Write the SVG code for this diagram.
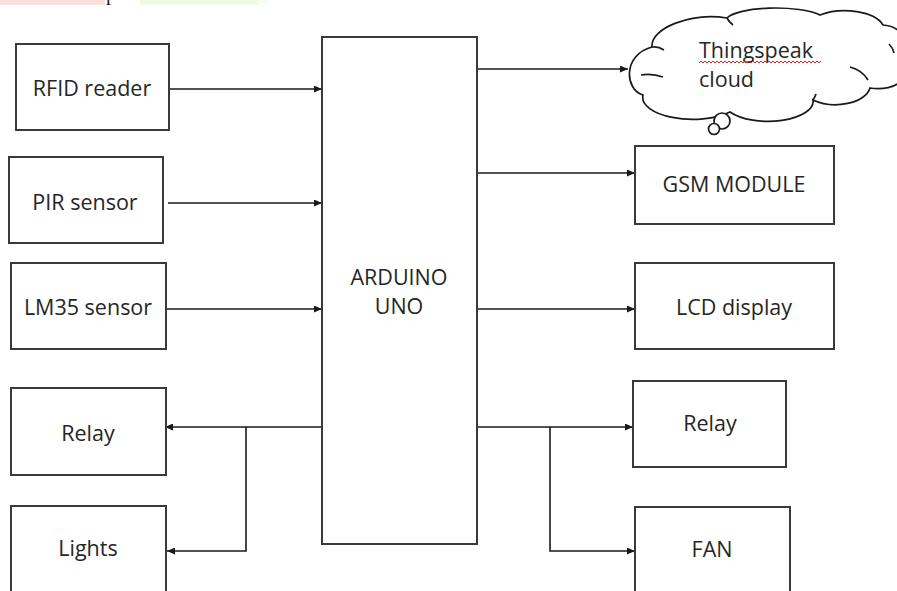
<svg xmlns="http://www.w3.org/2000/svg" width="897" height="591" viewBox="0 0 897 591">
<defs>
<style>
.box{fill:#fff;stroke:#3a3a3a;stroke-width:2}
.lbl{font-family:"Open Sans","Noto Sans",sans-serif;font-size:21.5px;fill:#262626}
.c{text-anchor:middle}
.ln{fill:none;stroke:#1a1a1a;stroke-width:1.6}
.cl{fill:none;stroke:#1a1a1a;stroke-width:1.7}
</style>
<marker id="ah" markerUnits="userSpaceOnUse" markerWidth="8" markerHeight="7" refX="8" refY="3.5" orient="auto">
<path d="M0,0 L8,3.5 L0,7 z" fill="#1a1a1a"/>
</marker>
</defs>
<rect width="897" height="591" fill="#fff"/>
<!-- top strip remnants -->
<rect x="0" y="0" width="105" height="5" fill="#ffdede"/>
<text x="106" y="0" font-family="Liberation Serif,serif" font-size="20" fill="#1a1a1a">p</text>
<rect x="140" y="0" width="118" height="5" fill="#eefbe2"/>
<rect x="258" y="0" width="9" height="3" fill="#f4fcec"/>

<g id="connectors">
<line class="ln" x1="170" y1="89" x2="322" y2="89" marker-end="url(#ah)"/>
<line class="ln" x1="168" y1="203" x2="322" y2="203" marker-end="url(#ah)"/>
<line class="ln" x1="167" y1="309" x2="322" y2="309" marker-end="url(#ah)"/>
<line class="ln" x1="471" y1="69" x2="628" y2="69" marker-end="url(#ah)"/>
<line class="ln" x1="477" y1="173" x2="635" y2="173" marker-end="url(#ah)"/>
<line class="ln" x1="477" y1="309" x2="635" y2="309" marker-end="url(#ah)"/>
<line class="ln" x1="477" y1="427" x2="633" y2="427" marker-end="url(#ah)"/>
<polyline class="ln" points="550,427 550,551 635,551" marker-end="url(#ah)"/>
<line class="ln" x1="325" y1="427" x2="165" y2="427" marker-end="url(#ah)"/>
<polyline class="ln" points="246,427 246,551 167,551" marker-end="url(#ah)"/>
</g>

<g id="rfid"><rect class="box" x="16" y="44" width="153" height="86"/><text class="lbl c" x="92" y="96">RFID reader</text></g>
<g id="pir"><rect class="box" x="9" y="157" width="154" height="86"/><text class="lbl c" x="85" y="210">PIR sensor</text></g>
<g id="lm35"><rect class="box" x="11" y="263" width="155" height="86"/><text class="lbl c" x="88" y="315">LM35 sensor</text></g>
<g id="relay-left"><rect class="box" x="11" y="388" width="155" height="87"/><text class="lbl c" x="88" y="441">Relay</text></g>
<g id="lights"><rect class="box" x="11" y="506" width="155" height="100"/><text class="lbl c" x="88" y="556">Lights</text></g>
<g id="arduino"><rect class="box" x="322" y="37" width="155" height="507"/><text class="lbl c" x="399" y="285">ARDUINO</text><text class="lbl c" x="399" y="314">UNO</text></g>
<g id="gsm"><rect class="box" x="635" y="146" width="199" height="78"/><text class="lbl c" x="734" y="192">GSM MODULE</text></g>
<g id="lcd"><rect class="box" x="635" y="263" width="199" height="86"/><text class="lbl c" x="734" y="315">LCD display</text></g>
<g id="relay-right"><rect class="box" x="633" y="381" width="153" height="86"/><text class="lbl c" x="710" y="431">Relay</text></g>
<g id="fan"><rect class="box" x="635" y="507" width="155" height="100"/><text class="lbl c" x="712" y="557">FAN</text></g>

<g id="cloud">
<path class="cl" style="fill:#fff" d="M643,95 C625,90 622,55 652,47 C650,28 692,12 727,18 A50,13 0 0 1 820,15 A40,20 0 0 1 883,25 A30,32 0 0 1 899,83 A30,18 0 0 1 870,88 A35,20 0 0 1 813,100 A45,20 0 0 1 730,112 A50,22 0 0 1 643,95 Z"/>
<path class="cl" d="M641,75 Q652,73 663,77"/>
<path class="cl" d="M652,47 Q658,46 664,50"/>
<path class="cl" d="M850,67 Q862,70 868,80"/>
<path class="cl" d="M813,100 Q815,97 816,94"/>
<path class="cl" d="M889,44 Q893,48 894,53"/>
<path class="cl" d="M727,18 Q729,22 733,25"/>
<circle class="cl" cx="722" cy="121" r="8" style="fill:#fff"/>
<circle class="cl" cx="714" cy="129" r="5.5" style="fill:#fff"/>
<text class="lbl" x="699" y="58">Thingspeak</text>
<text class="lbl" x="699" y="87">cloud</text>
<path d="M699,63 l2,-2 l2,2 l2,-2 l2,2 l2,-2 l2,2 l2,-2 l2,2 l2,-2 l2,2 l2,-2 l2,2 l2,-2 l2,2 l2,-2 l2,2 l2,-2 l2,2 l2,-2 l2,2 l2,-2 l2,2 l2,-2 l2,2 l2,-2 l2,2 l2,-2 l2,2 l2,-2 l2,2 l2,-2 l2,2 l2,-2 l2,2 l2,-2 l2,2 l2,-2 l2,2 l2,-2 l2,2 l2,-2 l2,2 l2,-2 l2,2 l2,-2 l2,2 l2,-2 l2,2 l2,-2 l2,2 l2,-2 l2,2 l2,-2 l2,2 l2,-2 l2,2 l2,-2 l2,2 l2,-2 l2,2 l2,-2" fill="none" stroke="#e02020" stroke-width="1"/>
</g>
</svg>
